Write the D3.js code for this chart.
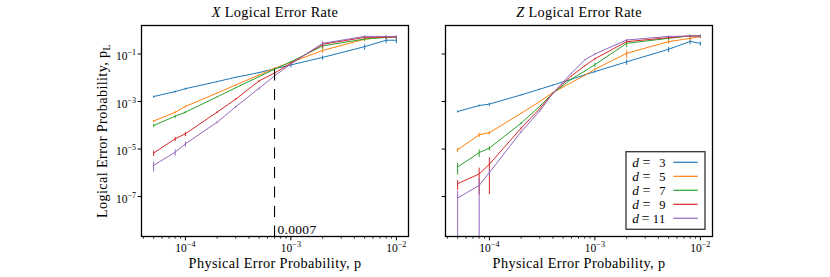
<!DOCTYPE html>
<html><head><meta charset="utf-8">
<script src="https://cdn.jsdelivr.net/npm/d3@7"></script>
<style>
body{margin:0;background:#fff}
svg{display:block}
text{font-family:"Liberation Serif","Times New Roman",serif;fill:#000}
</style>
</head><body>
<svg id="c" width="830" height="277"></svg>
<script>
// ---------------- data ----------------
const distances = [3, 5, 7, 9, 11];
const colors = ["#1f77b4", "#ff7f0e", "#2ca02c", "#d62728", "#9467bd"];

// X logical error rate
const pX = [5e-5, 8e-5, 1e-4, 2e-4, 3e-4, 5e-4, 7e-4, 1e-3, 2e-3, 5e-3, 8e-3, 1e-2];
const x_d3  = [1.62e-3, 2.63e-3, 3.47e-3, 6.9e-3, 1.05e-2, 1.66e-2, 2.4e-2, 3.47e-2, 7.2e-2, 0.204, 0.38, 0.38];
const x_d5  = [1.51e-4, 3.55e-4, 6.2e-4, 2.29e-3, 5.0e-3, 1.32e-2, 2.5e-2, 4.47e-2, 0.141, 0.417, 0.537, 0.537];
const x_d7  = [9.8e-5, 2.4e-4, 3.55e-4, 1.58e-3, 3.8e-3, 1.12e-2, 2.29e-2, 4.68e-2, 0.219, 0.427, 0.50, 0.513];
const x_d9  = [6.8e-6, 2.7e-5, 4.4e-5, 3.6e-4, 1.26e-3, 7.4e-3, 1.58e-2, 4.07e-2, 0.257, 0.50, 0.513, 0.513];
const x_d11 = [2.04e-6, 7.4e-6, 1.66e-5, 1.35e-4, 6.0e-4, 3.63e-3, 1.2e-2, 3.8e-2, 0.282, 0.55, 0.55, 0.55];
// relative (1-sigma) errors
const xe_d3  = [0.1, 0.1, 0.1, 0.05, 0.05, 0.05, 0.1, 0.2, 0.2, 0.25, 0.25, 0.25];
const xe_d5  = [0.1, 0.1, 0.1, 0.05, 0.05, 0.05, 0.1, 0.1, 0.2, 0.15, 0.15, 0.15];
const xe_d7  = [0.15, 0.15, 0.1, 0.05, 0.05, 0.05, 0.1, 0.1, 0.25, 0.15, 0.15, 0.15];
const xe_d9  = [0.25, 0.2, 0.2, 0.1, 0.1, 0.1, 0.1, 0.1, 0.3, 0.1, 0.1, 0.1];
const xe_d11 = [0.45, 0.3, 0.25, 0.1, 0.1, 0.1, 0.1, 0.1, 0.15, 0.1, 0.1, 0.1];

// Z logical error rate
const pZ = [5e-5, 8e-5, 1e-4, 2e-4, 3e-4, 4e-4, 6e-4, 8e-4, 1e-3, 2e-3, 5e-3, 8e-3, 1e-2];
const z_d3  = [3.8e-4, 6.8e-4, 7.8e-4, 1.9e-3, 3.3e-3, 4.9e-3, 8.7e-3, 1.32e-2, 1.82e-2, 4.68e-2, 0.158, 0.339, 0.282];
const z_d5  = [9.3e-6, 4.0e-5, 4.9e-5, 3.2e-4, 1.0e-3, 2.4e-3, 6.3e-3, 1.26e-2, 2.29e-2, 0.107, 0.331, 0.457, 0.537];
const z_d7  = [1.74e-6, 7.1e-6, 1.1e-5, 1.23e-4, 6.3e-4, 2.24e-3, 8.9e-3, 1.9e-2, 3.55e-2, 0.282, 0.457, 0.575, 0.575];
const z_d9  = [3.5e-7, 8.9e-7, 2.3e-6, 7.6e-5, 5.0e-4, 2.24e-3, 1.2e-2, 3.16e-2, 6.3e-2, 0.331, 0.49, 0.575, 0.575];
const z_d11 = [8.7e-8, 2.95e-7, 1.02e-6, 5.4e-5, 4.0e-4, 2.24e-3, 1.58e-2, 5.6e-2, 0.1, 0.389, 0.55, 0.575, 0.575];
const ze_d3  = [0.1, 0.1, 0.15, 0.05, 0.05, 0.05, 0.05, 0.05, 0.1, 0.25, 0.25, 0.25, 0.2];
const ze_d5  = [0.2, 0.2, 0.15, 0.05, 0.05, 0.05, 0.05, 0.05, 0.1, 0.35, 0.2, 0.2, 0.15];
const ze_d7  = [0.52, 0.35, 0.2, 0.1, 0.05, 0.05, 0.05, 0.05, 0.2, 0.3, 0.15, 0.15, 0.15];
const ze_d9  = [0.45, 0.86, 0.945, 0.1, 0.05, 0.05, 0.05, 0.05, 0.1, 0.1, 0.1, 0.1, 0.1];
const ze_d11 = [1, 1, 0.3, 0.1, 0.05, 0.05, 0.05, 0.05, 0.1, 0.1, 0.1, 0.1, 0.1];

const thresholdP = 0.0007;
const thresholdPL = 0.026;
const thresholdLabel = "0.0007";

const xTickExps = [-4, -3, -2];
const yTickExps = [-1, -3, -5, -7];
const titles = ["X", "Z"];

// ---------------- layout ----------------
const svg = d3.select("#c");
const yTop = 25.5, yBot = 236.5;
const panels = [
  {left: 141.5, right: 408.5, title: titles[0], p: pX,
   series: [x_d3, x_d5, x_d7, x_d9, x_d11], errs: [xe_d3, xe_d5, xe_d7, xe_d9, xe_d11], ylabels: true},
  {left: 445.5, right: 712.5, title: titles[1], p: pZ,
   series: [z_d3, z_d5, z_d7, z_d9, z_d11], errs: [ze_d3, ze_d5, ze_d7, ze_d9, ze_d11], ylabels: false}
];

const lxDomain = [Math.pow(10, -4.416), Math.pow(10, -1.885)];
const yDomain = [Math.pow(10, -8.68), Math.pow(10, 0.2)];
const y = d3.scaleLog().domain(yDomain).range([yBot, yTop]);
const FS = 14.3, TFS = 11.5, LS = 0.35, LFS = 12.5;

function sciLabel(sel, exp) {
  sel.append("tspan").text("10");
  sel.append("tspan").attr("font-size", TFS * 0.7).attr("dy", -4.6).text("\u2212" + Math.abs(exp));
}

panels.forEach((P, pi) => {
  const x = d3.scaleLog().domain(lxDomain).range([P.left, P.right]);
  const g = svg.append("g");
  const clipId = "clip" + pi;
  svg.append("clipPath").attr("id", clipId).append("rect")
    .attr("x", P.left).attr("y", yTop).attr("width", P.right - P.left).attr("height", yBot - yTop);

  const plot = g.append("g").attr("clip-path", `url(#${clipId})`);
  const line = d3.line().x(d => x(d[0])).y(d => y(d[1]));

  P.series.forEach((s, si) => {
    const pts = P.p.map((pv, i) => [pv, s[i]]);
    P.p.forEach((pv, i) => {
      const v = s[i], r = P.errs[si][i];
      const hi = v * (1 + r);
      const lo = v * (1 - r);
      const yLo = lo > 0 ? y(lo) : yBot + 5;
      plot.append("line")
        .attr("x1", x(pv)).attr("x2", x(pv))
        .attr("y1", y(hi)).attr("y2", yLo)
        .attr("stroke", colors[si]).attr("stroke-width", 1);
    });
    plot.append("path").datum(pts).attr("d", line)
      .attr("fill", "none").attr("stroke", colors[si]).attr("stroke-width", 1);
  });

  if (pi === 0) {
    plot.append("line")
      .attr("x1", x(thresholdP)).attr("x2", x(thresholdP))
      .attr("y1", yBot).attr("y2", y(thresholdPL))
      .attr("stroke", "#000").attr("stroke-width", 1.1)
      .attr("stroke-dasharray", "11,8.5");
    g.append("text").attr("x", x(thresholdP) + 3).attr("y", yBot - 2.5)
      .attr("font-size", 13.5).attr("letter-spacing", 0.3).text(thresholdLabel);
  }

  g.append("rect").attr("x", P.left).attr("y", yTop)
    .attr("width", P.right - P.left).attr("height", yBot - yTop)
    .attr("fill", "none").attr("stroke", "#000").attr("stroke-width", 1.3);

  const xmin = Math.log10(lxDomain[0]), xmax = Math.log10(lxDomain[1]);
  for (let e = Math.floor(xmin); e <= Math.ceil(xmax); e++) {
    for (let m = 1; m <= 9; m++) {
      const v = m * Math.pow(10, e);
      if (v < lxDomain[0] || v > lxDomain[1]) continue;
      const len = m === 1 ? 3.8 : 2.2;
      g.append("line").attr("x1", x(v)).attr("x2", x(v))
        .attr("y1", yBot).attr("y2", yBot + len)
        .attr("stroke", "#000").attr("stroke-width", m === 1 ? 1 : 0.8);
    }
  }
  xTickExps.forEach(e => {
    const t = g.append("text").attr("x", x(Math.pow(10, e))).attr("y", yBot + 15)
      .attr("text-anchor", "middle").attr("font-size", TFS);
    sciLabel(t, e);
  });

  yTickExps.forEach(e => {
    const yy = y(Math.pow(10, e));
    g.append("line").attr("x1", P.left - 3.8).attr("x2", P.left)
      .attr("y1", yy).attr("y2", yy).attr("stroke", "#000").attr("stroke-width", 1);
    if (P.ylabels) {
      const t = g.append("text").attr("x", P.left - 5.5).attr("y", yy + 6)
        .attr("text-anchor", "end").attr("font-size", TFS);
      sciLabel(t, e);
    }
  });

  const tt = g.append("text").attr("x", (P.left + P.right) / 2).attr("y", 16.5)
    .attr("text-anchor", "middle").attr("font-size", FS).attr("letter-spacing", LS);
  tt.append("tspan").attr("font-style", "italic").text(P.title);
  tt.append("tspan").text(" Logical Error Rate");

  g.append("text").attr("x", (P.left + P.right) / 2).attr("y", 267.5)
    .attr("text-anchor", "middle").attr("font-size", FS).attr("letter-spacing", LS)
    .text("Physical Error Probability, p");

  if (P.ylabels) {
    const yl = g.append("text")
      .attr("transform", `translate(107,${(yTop + yBot) / 2}) rotate(-90)`)
      .attr("text-anchor", "middle").attr("font-size", FS).attr("letter-spacing", LS);
    yl.append("tspan").text("Logical Error Probability, p");
    yl.append("tspan").attr("font-size", FS * 0.7).attr("dy", 2.5).text("L");
  }

  if (pi === 1) {
    const lg = g.append("g");
    lg.append("rect").attr("x", 626).attr("y", 151.7).attr("width", 79).attr("height", 77.6)
      .attr("fill", "#fff").attr("stroke", "#333").attr("stroke-width", 1.3);
    distances.forEach((d, i) => {
      const cy = 162.3 + i * 14;
      const by = cy + 4.5;
      lg.append("text").attr("x", 632.3).attr("y", by).attr("font-size", LFS + 0.8)
        .attr("font-style", "italic").text("d");
      lg.append("text").attr("x", d >= 10 ? 641.5 : 642.5).attr("y", by).attr("font-size", LFS + 1.5)
        .text("=");
      lg.append("text").attr("x", 665.5).attr("y", by).attr("font-size", LFS)
        .attr("text-anchor", "end").attr("letter-spacing", d >= 10 ? 0.3 : 0).text(d);
      lg.append("line").attr("x1", 673.3).attr("x2", 697.7).attr("y1", cy).attr("y2", cy)
        .attr("stroke", colors[i]).attr("stroke-width", 1.2);
    });
  }
});
</script>
</body></html>
